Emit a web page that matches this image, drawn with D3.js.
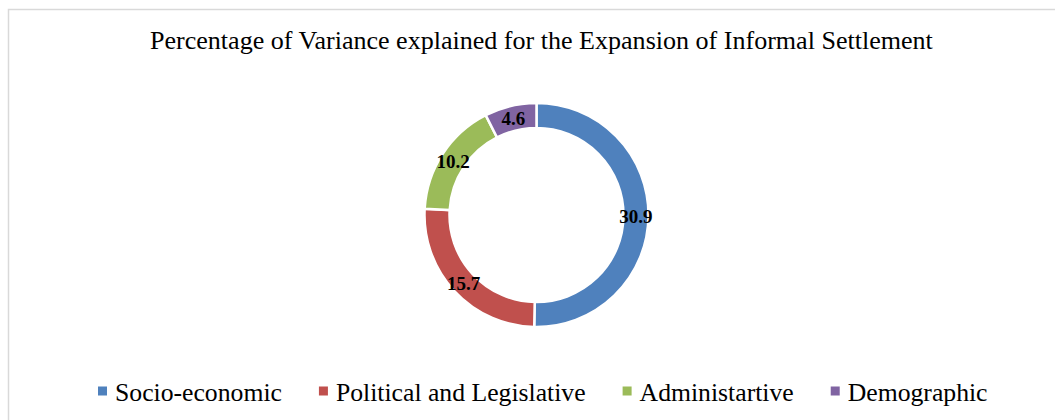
<!DOCTYPE html>
<html>
<head>
<meta charset="utf-8">
<script src="https://cdn.jsdelivr.net/npm/d3@7"></script>
<style>
  body { margin: 0; background: #fff; }
</style>
</head>
<body>
<svg id="chart" width="1055" height="420"></svg>
<script>
// data
const categories = ["Socio-economic", "Political and Legislative", "Administartive", "Demographic"];
const values = [30.9, 15.7, 10.2, 4.6];
const colors = ["#4F81BD", "#C0504D", "#9BBB59", "#8064A2"];
const title = "Percentage of Variance explained for the Expansion of Informal Settlement";

const serif = "Times";

const svg = d3.select("#chart");

// chart frame (light grey, runs off right/bottom)
svg.append("rect")
  .attr("x", 8.5).attr("y", 9.5)
  .attr("width", 1100).attr("height", 500)
  .attr("fill", "#fff")
  .attr("stroke", "#d9d9d9")
  .attr("stroke-width", 1.5);

// pick a font size so the text spans the target width
function fitSize(sel, size, targetW) {
  var w = sel.node().getComputedTextLength();
  var s = size * targetW / w;
  sel.style("font-size", s + "px");
  return s;
}

// title
var t = svg.append("text")
  .attr("x", 150)
  .attr("y", 49)
  .style("font-family", serif)
  .style("font-size", "25px")
  .attr("fill", "#000")
  .text(title);
fitSize(t, 25, 783);

// donut
var cx = 536.5, cy = 215;
var outerR = 112, innerR = 87;

var pie = d3.pie().sort(null).value(function (d) { return d; });
var arc = d3.arc().innerRadius(innerR).outerRadius(outerR);
var arcs = pie(values);

var g = svg.append("g").attr("transform", "translate(" + cx + "," + cy + ")");

g.selectAll("path")
  .data(arcs)
  .enter()
  .append("path")
  .attr("d", arc)
  .attr("fill", function (d, i) { return colors[i]; })
  .attr("stroke", "#fff")
  .attr("stroke-width", 2.5);

g.selectAll("text.lbl")
  .data(arcs)
  .enter()
  .append("text")
  .attr("class", "lbl")
  .attr("text-anchor", "middle")
  .style("font-family", serif)
  .style("font-size", "19px")
  .style("font-weight", "bold")
  .attr("fill", "#000")
  .attr("x", function (d) { return arc.centroid(d)[0]; })
  .attr("y", function (d) { return arc.centroid(d)[1] + 7; })
  .text(function (d) { return d.data; });

// legend
var legY = 391;
var x = 98;
var legSize = null;
categories.forEach(function (name, i) {
  svg.append("rect")
    .attr("x", x).attr("y", legY - 4.5)
    .attr("width", 9).attr("height", 9)
    .attr("fill", colors[i]);
  var lt = svg.append("text")
    .attr("x", x + 17)
    .attr("y", legY + 10)
    .style("font-family", serif)
    .style("font-size", (legSize || 26) + "px")
    .attr("fill", "#000")
    .text(name);
  if (legSize == null) legSize = fitSize(lt, 26, 167); // first label spans ~167px
  var w = lt.node().getComputedTextLength();
  x = x + 17 + w + 37;
});
</script>
</body>
</html>
